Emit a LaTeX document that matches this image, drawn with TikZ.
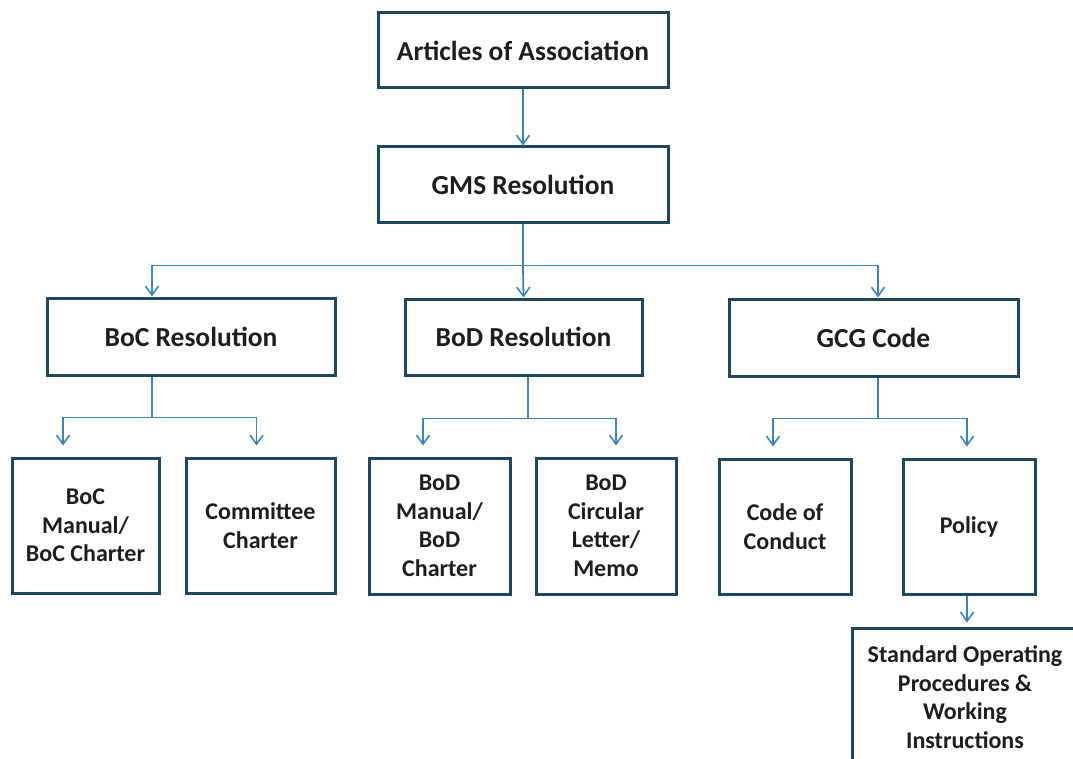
\documentclass[tikz,border=0pt]{standalone}
\usepackage{fontspec}
\setmainfont{Carlito}
\usetikzlibrary{arrows.meta}
\definecolor{boxc}{HTML}{1F4760}
\definecolor{linec}{HTML}{3A84BE}
\definecolor{txtc}{HTML}{1E1E1E}
\begin{document}
\begin{tikzpicture}[x=1pt,y=-1pt,
  box/.style={draw=boxc, line width=3pt, fill=white, text=txtc,
    font=\bfseries\fontsize{27.5}{33}\selectfont, align=center, inner sep=0pt},
  low/.style={box, font=\bfseries\fontsize{24}{28.5}\selectfont},
  conn/.style={draw=linec, line width=1.8pt},
  arr/.style={conn, -{Straight Barb[length=9pt,width=13pt,line width=1.6pt]}},
  gap/.style={shorten >=11pt}
]
\useasboundingbox (0,0) rectangle (1073,759);
\clip (0,0) rectangle (1073,759);
\fill[white] (0,0) rectangle (1073,759);

% top levels
\node[box, minimum width=290pt, minimum height=75pt] (art) at (523,50.5) {Articles of Association};
\node[box, minimum width=290pt, minimum height=76pt] (gms) at (523,185) {GMS Resolution};
\node[box, minimum width=288pt, minimum height=77pt] (boc) at (191,336.5) {BoC Resolution};
\node[box, minimum width=237pt, minimum height=76pt] (bod) at (523.5,337) {BoD Resolution};
\node[box, minimum width=289pt, minimum height=77pt] (gcg) at (873.5,337.5) {GCG Code};

% bottom row
\node[low, minimum width=147pt, minimum height=135pt] (bocm) at (85.5,525.5) {BoC\\Manual/\\BoC Charter};
\node[low, minimum width=149pt, minimum height=135pt] (comm) at (260.5,525.5) {Committee\\Charter};
\node[low, minimum width=141pt, minimum height=136pt] (bodm) at (439.5,526) {BoD\\Manual/\\BoD\\Charter};
\node[low, minimum width=140pt, minimum height=136pt] (bodc) at (606,526) {BoD\\Circular\\Letter/\\Memo};
\node[low, minimum width=132pt, minimum height=135pt] (coc) at (785,526.5) {Code of\\Conduct};
\node[low, minimum width=132pt, minimum height=135pt] (pol) at (969,526.5) {Policy};
\node[low, minimum width=226pt, minimum height=138pt] (sop) at (965,697) {Standard Operating\\Procedures \&\\Working\\Instructions};

% connectors
\draw[arr] (art) -- (gms);
\path (gms.south) ++(0,41) coordinate (bus);
\draw[conn] (gms.south) -- (bus);
\draw[arr] (bus) -| ([xshift=-39pt]boc.north);
\draw[arr] (bus) -- (bod.north);
\draw[arr] (bus) -| ([xshift=4.5pt]gcg.north);

\path ([xshift=-39pt]boc.south) ++(0,41) coordinate (bocs);
\draw[conn] ([xshift=-39pt]boc.south) -- (bocs);
\draw[arr, gap] (bocs) -| ([xshift=-22.5pt]bocm.north);
\draw[arr, gap] (bocs) -| ([xshift=-4pt]comm.north);

\path ([xshift=4.5pt]bod.south) ++(0,42) coordinate (bods);
\draw[conn] ([xshift=4.5pt]bod.south) -- (bods);
\draw[arr, gap] (bods) -| ([xshift=-16.5pt]bodm.north);
\draw[arr, gap] (bods) -| ([xshift=10pt]bodc.north);

\path ([xshift=4.5pt]gcg.south) ++(0,41) coordinate (gcgs);
\draw[conn] ([xshift=4.5pt]gcg.south) -- (gcgs);
\draw[arr, gap] (gcgs) -| ([xshift=-12pt]coc.north);
\draw[arr, gap] (gcgs) -| ([xshift=-2pt]pol.north);

\draw[arr, shorten >=4pt] ([xshift=-2pt]pol.south) -- ([xshift=2pt]sop.north);
\end{tikzpicture}
\end{document}
